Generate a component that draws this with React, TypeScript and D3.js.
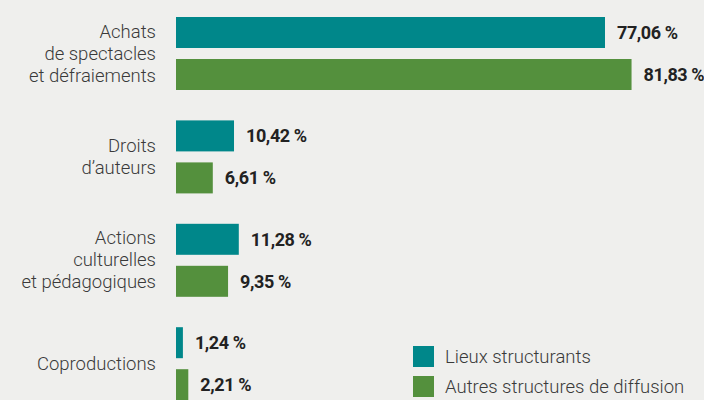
import React from 'react';
import * as d3 from 'd3';

const categories = [
  ['Achats', 'de spectacles', 'et défraiements'],
  ['Droits', 'd\u2019auteurs'],
  ['Actions', 'culturelles', 'et pédagogiques'],
  ['Coproductions'],
];
const seriesNames = ['Lieux structurants', 'Autres structures de diffusion'];
const lieux = [77.06, 10.42, 11.28, 1.24];
const autres = [81.83, 6.61, 9.35, 2.21];
const colors = ['#00878a', '#54903d'];

const width = 704;
const height = 400;
const font = 'Roboto, sans-serif';

const App = () => {
  const series = [lieux, autres];
  const groups = categories.map((_, i) => String(i));

  const y = d3.scaleBand().domain(groups).range([17, 17 + 4 * 103.4]).paddingInner(0);
  const ySub = d3.scaleBand().domain(['0', '1']).range([0, 73]).paddingInner(0.262);
  const x = d3.scaleLinear().domain([0, 100]).range([176, 176 + 556.7]);

  const fmt = (v: number) => v.toFixed(2).replace('.', ',') + '\u00a0%';

  return (
    <svg width={width} height={height} style={{ position: 'fixed', left: 0, top: 0, background: '#efefed' }}>
      <rect width={width} height={height} fill="#efefed" />
      {categories.map((lines, i) => {
        const cy = (y(groups[i]) as number) + 36.5;
        const lh = 22;
        const start = cy - ((lines.length - 1) * lh) / 2 + 6;
        return (
          <text key={'c' + i} textAnchor="end" fontFamily={font} fontSize={18.5} fill="#3a3a3a" fontWeight={300}>
            {lines.map((l, j) => (
              <tspan key={j} x={156} y={start + j * lh}>{l}</tspan>
            ))}
          </text>
        );
      })}
      {series.map((vals, s) =>
        vals.map((v, i) => {
          const by = (y(groups[i]) as number) + (ySub(String(s)) as number);
          const bh = ySub.bandwidth();
          return (
            <g key={s + '-' + i}>
              <rect x={x(0)} y={by} width={x(v) - x(0)} height={bh} fill={colors[s]} />
              <text x={x(v) + 12} y={by + bh / 2 + 6.5} fontFamily={font} fontSize={18} fontWeight={700} fill="#222" letterSpacing={-0.4}>
                {fmt(v)}
              </text>
            </g>
          );
        })
      )}
      {seriesNames.map((n, s) => (
        <g key={n} transform={`translate(413, ${346 + s * 30})`}>
          <rect width={21} height={21} fill={colors[s]} />
          <text x={32} y={17} fontFamily={font} fontSize={18.5} fill="#3a3a3a" fontWeight={300}>{n}</text>
        </g>
      ))}
    </svg>
  );
};

export default App;
